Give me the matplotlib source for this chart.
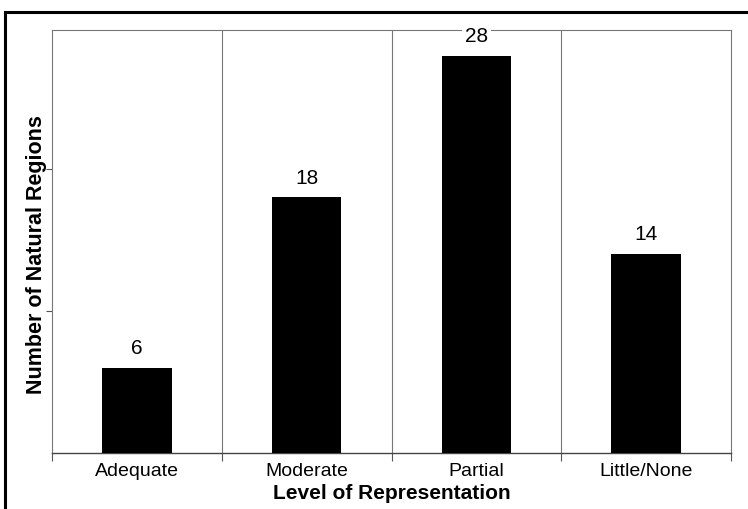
import numpy as np
import matplotlib.pyplot as plt
from matplotlib.lines import Line2D

categories = ['Adequate', 'Moderate', 'Partial', 'Little/None']
counts = [6, 18, 28, 14]

plt.rcParams['font.family'] = ['Liberation Sans', 'DejaVu Sans']

W, H = 748, 509
fig = plt.figure(figsize=(W / 100, H / 100), dpi=100)
ax = fig.add_axes([52 / W, 1 - 453 / H, (731 - 52) / W, (453 - 30) / H])

x = np.arange(len(categories))
bars = ax.bar(x, counts, width=0.41, color='black', zorder=3)
for b, v in zip(bars, counts):
    ax.text(b.get_x() + b.get_width() / 2, v + 0.7, str(v),
            ha='center', va='bottom', fontsize=15, zorder=6, clip_on=False,
            bbox=dict(facecolor='white', edgecolor='none', pad=2))

ax.set_xlim(-0.5, len(categories) - 0.5)
ax.set_ylim(0, 29.8)

# category divider lines
for d in np.arange(0.5, len(categories) - 0.5, 1):
    ax.axvline(d, color='#777777', lw=0.8, zorder=1)

ax.set_xticks(x)
ax.set_xticklabels(categories, fontsize=14)
ax.tick_params(axis='x', length=0, pad=7)
ax.set_xticks(np.arange(-0.5, len(categories), 1), minor=True)
ax.tick_params(axis='x', which='minor', length=6, width=0.8, color='#555555')

ax.set_yticks([10, 20])
ax.set_yticklabels([])
ax.tick_params(axis='y', length=4, width=0.8, color='#555555')

for side in ['left', 'right', 'top']:
    ax.spines[side].set_color('#777777')
    ax.spines[side].set_linewidth(0.8)
ax.spines['bottom'].set_color('#444444')
ax.spines['bottom'].set_linewidth(1.0)

ax.set_xlabel('Level of Representation', fontsize=15, fontweight='bold')
ax.xaxis.set_label_coords(0.5, -0.074)
ax.set_ylabel('Number of Natural Regions', fontsize=15.5, fontweight='bold')
ax.yaxis.set_label_coords(-0.007, 0.47)

# outer frame (left and top only, as in the scan)
fig.add_artist(Line2D([5 / W, 5 / W], [0, 1 - 12 / H], color='black', lw=2.2,
                      transform=fig.transFigure))
fig.add_artist(Line2D([5 / W, 1], [1 - 12 / H, 1 - 12 / H], color='black', lw=2.2,
                      transform=fig.transFigure))

fig.savefig('out.png', dpi=100)
